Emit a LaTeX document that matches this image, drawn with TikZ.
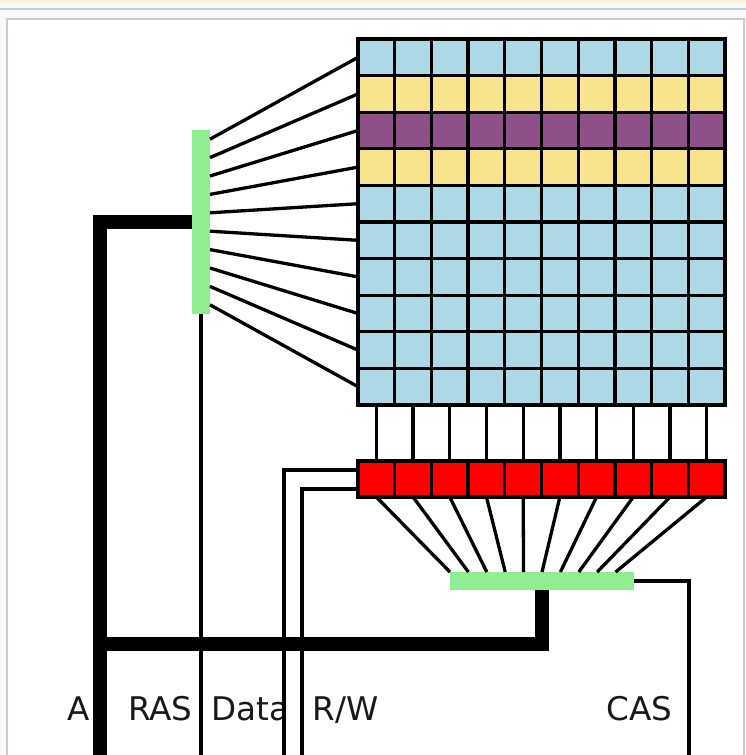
\documentclass[tikz,border=0pt]{standalone}
\usepackage{fontspec}
\setmainfont{DejaVu Sans}
\usetikzlibrary{calc}
\definecolor{cellblue}{HTML}{ADD8E6}
\definecolor{cellyellow}{HTML}{F7E48D}
\definecolor{cellpurple}{HTML}{8E5088}
\definecolor{barGreen}{HTML}{90EE90}
\definecolor{pagebg}{HTML}{F8F9FA}
\definecolor{framegray}{HTML}{C8CCD1}
\definecolor{topcream}{HTML}{FDF0D5}
\tikzset{
  x=1pt,y=-1pt,
  cellbox/.style={draw=black,line width=3.3pt,minimum width=36.7pt,minimum height=36.6pt,inner sep=0pt,outer sep=0pt,anchor=north west},
  regbox/.style={cellbox,fill=red,minimum height=36pt},
  decoderbar/.style={fill=barGreen,inner sep=0pt,outer sep=0pt,anchor=north west},
  wire/.style={draw=black,line width=3.3pt},
  bus/.style={draw=black,line width=14pt},
  siglabel/.style={font=\fontsize{32.6}{33}\selectfont,text=black!90,inner sep=0pt,anchor=base west}
}
\begin{document}
\begin{tikzpicture}
\useasboundingbox (0,0) rectangle (746,755);
\fill[pagebg] (0,0) rectangle (746,755);
\fill[topcream] (0,0) rectangle (746,2);
\draw[framegray,line width=2pt] (0,9) -- (746,9);
\fill[white] (7,19) rectangle (744,755);
\draw[framegray,line width=2pt] (7,755) -- (7,19) -- (744,19) -- (744,755);
% memory array
\foreach \r in {0,...,9}{
  \foreach \c in {0,...,9}{
    \ifnum\r=2 \def\cellcol{cellpurple}\else
      \ifnum\r=1 \def\cellcol{cellyellow}\else
        \ifnum\r=3 \def\cellcol{cellyellow}\else
          \def\cellcol{cellblue}\fi\fi\fi
    \node[cellbox,fill=\cellcol] (m\r-\c) at (358+36.7*\c,39+36.6*\r) {};
  }
}
% register
\foreach \c in {0,...,9}{
  \node[regbox] (reg\c) at (358+36.7*\c,461) {};
}
% decoders
\node[decoderbar,minimum width=18pt,minimum height=184pt] (rowdec) at (192,130) {};
\node[decoderbar,minimum width=184pt,minimum height=18pt] (coldec) at (450,572) {};
% free ends
\coordinate (bottomA) at (100,755);
\coordinate (busjoin) at (100,644);
\coordinate (rasend) at (201,755);
\coordinate (dataend) at (284,755);
\coordinate (rwend) at (302,755);
\coordinate (casend) at (689,755);
% row lines
\foreach \r in {0,...,9}{
  \draw[wire] ($(rowdec.north east)!{(\r+0.5)/10}!(rowdec.south east)$) -- (m\r-0.west);
}
% column lines
\foreach \c in {0,...,9}{
  \draw[wire] (m9-\c.south) -- (reg\c.north);
  \draw[wire] (reg\c.south) -- ($(coldec.north west)!{\c/10}!(coldec.north east)$);
}
% signals
\node[siglabel] (labA) at (67,720) {A};
\node[siglabel] (labRAS) at (128,720) {RAS};
\node[siglabel] (labData) at (211.5,720) {Data};
\node[siglabel] (labRW) at (312.5,720) {R/W};
\node[siglabel] (labCAS) at (606.5,720) {CAS};
\draw[wire] (rowdec.south) -- (rasend);
\draw[wire] ($(reg0.north west)!0.25!(reg0.south west)$) -| (dataend);
\draw[wire] ($(reg0.north west)!0.78!(reg0.south west)$) -| (rwend);
\draw[wire] (coldec.east) -| (casend);
\draw[bus,line cap=butt] (rowdec.west) -| (bottomA);
\draw[bus] (coldec.south) |- (busjoin);
\end{tikzpicture}
\end{document}
